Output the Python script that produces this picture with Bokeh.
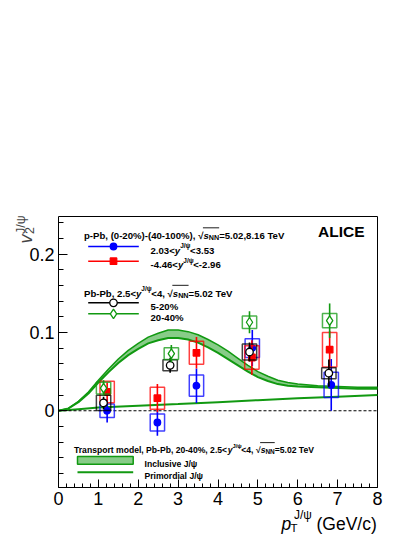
import numpy as np
from bokeh.plotting import figure
from bokeh.models import Range1d, FixedTicker, Label
from bokeh.embed import file_html
from bokeh.resources import INLINE

# ---------------- data ----------------
# p-Pb forward 2.03<y<3.53 (blue)
fwd_pt = [1.22, 2.48, 3.46, 4.86, 6.84]
fwd_v2 = [0.000, -0.015, 0.032, 0.080, 0.033]
fwd_stat = [0.015, 0.017, 0.022, 0.023, 0.033]
fwd_syst = [0.0085, 0.011, 0.0135, 0.012, 0.016]
# p-Pb backward -4.46<y<-2.96 (red)
bwd_pt = [1.22, 2.48, 3.46, 4.85, 6.80]
bwd_v2 = [0.024, 0.016, 0.074, 0.068, 0.078]
bwd_stat = [0.012, 0.018, 0.020, 0.022, 0.024]
bwd_syst = [0.0137, 0.014, 0.0146, 0.015, 0.022]
# Pb-Pb 5-20% (black)
c520_pt = [1.13, 2.80, 4.79, 6.78]
c520_v2 = [0.010, 0.058, 0.075, 0.048]
c520_stat = [0.008, 0.0095, 0.012, 0.0175]
c520_syst = [0.0098, 0.007, 0.0102, 0.007]
# Pb-Pb 20-40% (green)
c2040_pt = [1.13, 2.83, 4.79, 6.80]
c2040_v2 = [0.029, 0.073, 0.113, 0.115]
c2040_stat = [0.010, 0.011, 0.014, 0.022]
c2040_syst = [0.0075, 0.0075, 0.008, 0.009]
# transport model, inclusive J/psi band
model_pt = [0, 0.25, 0.5, 0.75, 1.0, 1.25, 1.5, 1.75, 2.0, 2.25, 2.5, 2.75, 3.0, 3.25,
            3.5, 3.75, 4.0, 4.25, 4.5, 4.75, 5.0, 5.25, 5.5, 5.75, 6.0, 6.5, 7.0, 7.5, 8.0]
model_hi = [0, 0.003, 0.012, 0.024, 0.039, 0.053, 0.066, 0.077, 0.086, 0.094, 0.099, 0.103,
            0.103, 0.101, 0.097, 0.091, 0.084, 0.076, 0.067, 0.058, 0.050, 0.044, 0.039,
            0.036, 0.034, 0.032, 0.031, 0.030, 0.030]
model_lo = [0, 0.003, 0.011, 0.022, 0.036, 0.049, 0.061, 0.071, 0.079, 0.086, 0.090, 0.093,
            0.093, 0.091, 0.087, 0.081, 0.074, 0.066, 0.058, 0.050, 0.043, 0.038, 0.034,
            0.032, 0.031, 0.030, 0.029, 0.028, 0.028]
# primordial J/psi
prim_pt = [0, 0.5, 1, 2, 3, 4, 5, 6, 7, 8]
prim_v2 = [0, 0.002, 0.004, 0.0065, 0.0085, 0.011, 0.0135, 0.016, 0.018, 0.020]

x_ticks = [0, 1, 2, 3, 4, 5, 6, 7, 8]
y_ticks = [0, 0.1, 0.2]
y_tick_labels = ["0", "0.1", "0.2"]

# ---------------- layout helpers ----------------
FONT = "Liberation Sans"
X0, X1 = 0.0, 8.0            # axis extent
Y0, Y1 = -0.098, 0.248
FL, FT, FW, FH = 58, 216, 319, 271      # axis box position on the canvas (px)
CW, CH = 405, 535                        # canvas size


def dx(px):
    return X0 + (px - FL) / FW * (X1 - X0)


def dy(py):
    return Y1 - (py - FT) / FH * (Y1 - Y0)


W_REG = {' ': 278, '%': 889, '(': 333, ')': 333, ',': 278, '-': 333, '.': 278, '/': 278,
         '<': 584, '=': 584, '>': 584, 'ψ': 686, '√': 549}
W_BOLD = dict(W_REG)
for c in "0123456789":
    W_REG[c] = 556
    W_BOLD[c] = 556
for c, w in zip("ABCDEFGHIJKLMNOPQRSTUVWXYZ",
                [667, 667, 722, 722, 667, 611, 778, 722, 278, 500, 667, 556, 833, 722, 778, 667,
                 778, 722, 667, 611, 722, 667, 944, 667, 667, 611]):
    W_REG[c] = w
for c, w in zip("abcdefghijklmnopqrstuvwxyz",
                [556, 556, 500, 556, 556, 278, 556, 556, 222, 222, 500, 222, 833, 556, 556, 556,
                 556, 333, 500, 278, 556, 500, 722, 500, 500, 500]):
    W_REG[c] = w
for c, w in zip("ABCDEFGHIJKLMNOPQRSTUVWXYZ",
                [722, 722, 722, 722, 667, 611, 778, 722, 278, 556, 722, 611, 833, 722, 778, 667,
                 778, 722, 667, 611, 722, 667, 944, 667, 667, 611]):
    W_BOLD[c] = w
for c, w in zip("abcdefghijklmnopqrstuvwxyz",
                [556, 611, 556, 611, 556, 333, 611, 611, 278, 278, 556, 278, 889, 611, 611, 611,
                 611, 389, 556, 333, 611, 556, 778, 556, 556, 500]):
    W_BOLD[c] = w


def tw(s, size, style):
    t = W_BOLD if "bold" in style else W_REG
    return sum(t.get(c, 556) for c in s) * size / 1000.0


# the frame covers the whole canvas; the axes sit at fixed locations
p = figure(width=CW, height=CH,
           x_range=Range1d(dx(0), dx(CW)), y_range=Range1d(dy(CH), dy(0)),
           output_backend="svg", toolbar_location=None,
           min_border_left=0, min_border_right=0, min_border_top=0, min_border_bottom=0)
p.background_fill_color = "white"
p.border_fill_color = "white"
p.xgrid.visible = False
p.ygrid.visible = False
p.outline_line_color = None

p.xaxis.fixed_location = Y0
p.xaxis.bounds = (X0, X1)
p.yaxis.fixed_location = X0
p.yaxis.bounds = (Y0, Y1)

for ax in (p.xaxis[0], p.yaxis[0]):
    ax.major_tick_out = 0
    ax.minor_tick_out = 0
    ax.major_label_text_font = FONT
    ax.major_label_text_font_size = "18px"
    ax.major_label_text_color = "black"
    ax.axis_line_color = "black"
    ax.major_tick_line_color = "black"
    ax.minor_tick_line_color = "black"
p.xaxis.major_tick_in = 8
p.xaxis.minor_tick_in = 4
p.yaxis.major_tick_in = 9
p.yaxis.minor_tick_in = 5
p.xaxis.major_label_standoff = 4
p.yaxis.major_label_standoff = 4
p.xaxis.ticker = FixedTicker(ticks=x_ticks,
                             minor_ticks=[round(v, 2) for v in np.arange(0, 8.01, 0.2)])
p.yaxis.ticker = FixedTicker(ticks=y_ticks,
                             minor_ticks=[round(v, 3) for v in np.arange(-0.08, 0.2501, 0.02)])
p.yaxis.major_label_overrides = {t: l for t, l in zip(y_ticks, y_tick_labels)}

# top and right frame edges
p.segment(x0=[X0, X1], y0=[Y1, Y0], x1=[X1, X1], y1=[Y1, Y1], line_color="black",
          line_width=1)

GREEN = "#119911"
BAND_FILL = "#119911"

# ---------------- model ----------------
p.varea(x=model_pt, y1=model_lo, y2=model_hi, fill_color=BAND_FILL, fill_alpha=0.5)
p.line(model_pt, model_hi, line_color=GREEN, line_width=1.5)
p.line(model_pt, model_lo, line_color=GREEN, line_width=2)
p.line(prim_pt, prim_v2, line_color=GREEN, line_width=2)

# zero line
p.segment(x0=[X0], y0=[0], x1=[X1], y1=[0], line_color="black", line_width=1.2,
          line_dash="3 2")


# ---------------- data ----------------
def series(pt, v2, stat, syst, color, marker, size, fill):
    pt = np.array(pt)
    v2 = np.array(v2)
    stat = np.array(stat)
    syst = np.array(syst)
    p.rect(x=pt, y=v2, width=0.36, height=2 * syst, fill_alpha=0, line_color=color,
           line_width=1.5, line_alpha=0.75)
    p.segment(x0=pt, y0=v2 - stat, x1=pt, y1=v2 + stat, line_color=color, line_width=1.6)
    p.scatter(x=pt, y=v2, marker=marker, size=size, fill_color=fill, line_color=color,
              line_width=1.3)


M_BLUE, M_RED, M_BLACK, M_GREEN = 6.5, 6.5, 7.5, 9.5
series(fwd_pt, fwd_v2, fwd_stat, fwd_syst, "#0000ff", "circle", M_BLUE, "#0000ff")
series(bwd_pt, bwd_v2, bwd_stat, bwd_syst, "#ff0000", "square", M_RED, "#ff0000")
series(c520_pt, c520_v2, c520_stat, c520_syst, "black", "circle", M_BLACK, "white")
series(c2040_pt, c2040_v2, c2040_stat, c2040_syst, GREEN, "diamond", M_GREEN, "white")


# ---------------- text ----------------
def put(x, base, txt, size, style="bold", color="black", align="left", angle=0.0):
    p.add_layout(Label(x=dx(x), y=dy(base), text=txt, text_font=FONT,
                       text_font_size=f"{size}px", text_font_style=style,
                       text_color=color, text_baseline="alphabetic", text_align=align,
                       angle=angle))


def runs(x, base, items):
    for txt, size, style, shift in items:
        put(x, base - shift, txt, size, style)
        x += tw(txt, size, style)
    return x


def sqrt_s(x, base, size):
    put(x, base, "√", size, "bold")
    x1 = x + tw("√", size, "bold")
    put(x1, base, "s", size, "bold italic")
    x2 = x1 + tw("s", size, "bold")
    sub = size * 0.75
    put(x2, base + size * 0.25, "NN", sub, "bold")
    x3 = x2 + tw("NN", sub, "bold")
    yb = base - size * 0.8
    p.segment(x0=[dx(x1 - 0.5)], y0=[dy(yb)], x1=[dx(x3)], y1=[dy(yb)],
              line_color="black", line_width=0.9)
    return x3


def yjpsi(x, base, size, pre, post):
    x = runs(x, base, [(pre, size, "bold", 0), ("y", size, "bold italic", 0)])
    x = runs(x, base, [("J/ψ", size * 0.68, "bold", size * 0.42)])
    return runs(x, base, [(post, size, "bold", 0)])


S = 9.6
x = runs(83.5, 235, [("p-Pb, (0-20%)-(40-100%), ", S, "bold", 0)])
x = sqrt_s(x, 235, S)
runs(x, 235, [("=5.02,8.16 TeV", S, "bold", 0)])

yjpsi(150, 249.5, S, "2.03<", "<3.53")
yjpsi(150, 264.2, S, "-4.46<", "<-2.96")

x = yjpsi(83.5, 292.5, S, "Pb-Pb, 2.5<", "<4, ")
x = sqrt_s(x, 292.5, S)
runs(x, 292.5, [("=5.02 TeV", S, "bold", 0)])

put(150, 305.8, "5-20%", S)
put(150, 316.8, "20-40%", S)

S2 = 8.6
x = yjpsi(73.5, 449, S2, "Transport model, Pb-Pb, 20-40%, 2.5<", "<4, ")
x = sqrt_s(x, 449, S2)
runs(x, 449, [("=5.02 TeV", S2, "bold", 0)])
put(144, 463.5, "Inclusive J/ψ", S2)
put(144, 475, "Primordial J/ψ", S2)

put(364, 230.7, "ALICE", 15.5, "bold", align="right")

# legend samples
for yy, col, mk, sz, fc in [(246, "#0000ff", "circle", M_BLUE, "#0000ff"),
                             (260.7, "#ff0000", "square", M_RED, "#ff0000"),
                             (302.3, "black", "circle", M_BLACK, "white"),
                             (313.3, GREEN, "diamond", M_GREEN, "white")]:
    p.segment(x0=[dx(87.7)], y0=[dy(yy)], x1=[dx(138.3)], y1=[dy(yy)], line_color=col,
              line_width=1.6)
    p.scatter(x=[dx(113)], y=[dy(yy)], marker=mk, size=sz, fill_color=fc, line_color=col,
              line_width=1.3)
p.quad(left=[dx(77)], right=[dx(132.7)], top=[dy(456)], bottom=[dy(463.7)],
       fill_color=BAND_FILL, fill_alpha=0.5, line_color=GREEN, line_width=1.5)
p.segment(x0=[dx(77)], y0=[dy(471.7)], x1=[dx(132.7)], y1=[dy(471.7)], line_color=GREEN,
          line_width=2)

# axis titles
put(281, 523, "p", 17.5, "italic")
put(290, 527, "T", 11.5, "normal")
put(293.5, 514, "J/ψ", 12, "normal")
put(316, 523, "(GeV/c)", 17.5, "normal")

# y title (rotated)
ang = np.pi / 2
p.add_layout(Label(x=dx(25), y=dy(243), text="v", text_font=FONT, text_font_size="18px",
                   text_font_style="italic", text_baseline="alphabetic", angle=ang))
p.add_layout(Label(x=dx(29), y=dy(233.5), text="2", text_font=FONT, text_font_size="12.5px",
                   text_baseline="alphabetic", angle=ang))
p.add_layout(Label(x=dx(20), y=dy(233.5), text="J/ψ", text_font=FONT, text_font_size="12.5px",
                   text_baseline="alphabetic", angle=ang))

open("out.html", "w").write(file_html(p, INLINE))
